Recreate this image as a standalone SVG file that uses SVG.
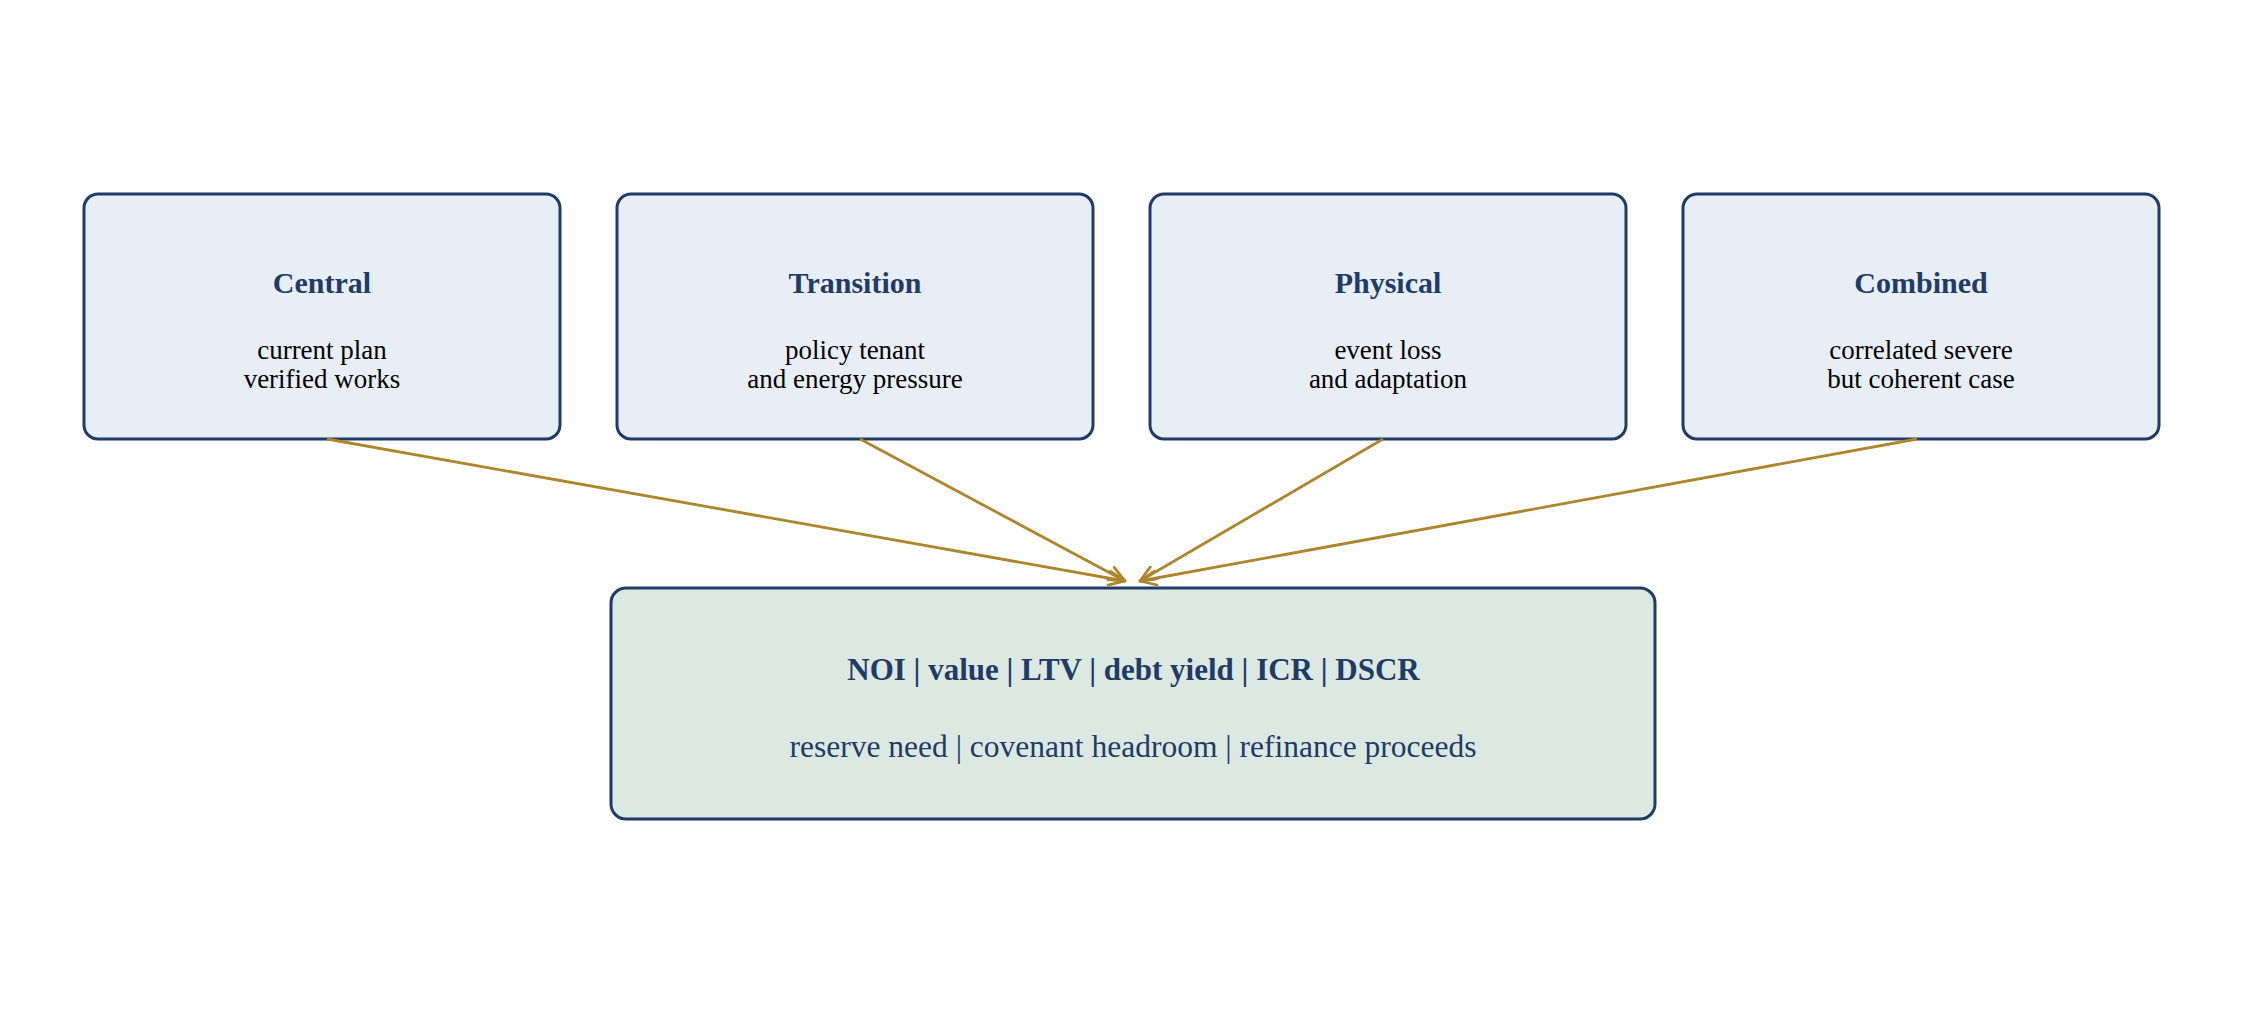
<svg xmlns="http://www.w3.org/2000/svg" width="2266" height="1012" viewBox="0 0 2266 1012">
  <defs>
    <style>
      .box { fill: #e7eef6; stroke: #1f3b66; stroke-width: 3; }
      .main { fill: #dce9e3; stroke: #1f3b66; stroke-width: 3; }
      .title { font-family: "Liberation Serif", "Times New Roman", serif; font-weight: bold; font-size: 30px; fill: #1f3b66; text-anchor: middle; }
      .body { font-family: "Liberation Serif", "Times New Roman", serif; font-size: 27px; fill: #000000; text-anchor: middle; }
      .mtitle { font-family: "Liberation Serif", "Times New Roman", serif; font-weight: bold; font-size: 31px; fill: #1f3b66; text-anchor: middle; }
      .msub { font-family: "Liberation Serif", "Times New Roman", serif; font-size: 31.5px; fill: #1f3b66; text-anchor: middle; }
      .conn { stroke: #ad862c; stroke-width: 2.8; fill: none; marker-end: url(#arr); }
    </style>
    <marker id="arr" viewBox="0 0 20 16" refX="18" refY="8" markerWidth="20" markerHeight="16" markerUnits="userSpaceOnUse" orient="auto">
      <path d="M2,1 L18,8 L2,15" fill="none" stroke="#ad862c" stroke-width="2.8" stroke-linecap="round" stroke-linejoin="round"/>
    </marker>
  </defs>
  <rect width="2266" height="1012" fill="#ffffff"/>

  <g id="node-central">
    <rect class="box" x="84" y="194" width="476" height="245" rx="14" ry="14"/>
    <text class="title" x="322" y="293">Central</text>
    <text class="body" x="322" y="359">current plan</text>
    <text class="body" x="322" y="388">verified works</text>
  </g>
  <g id="node-transition">
    <rect class="box" x="617" y="194" width="476" height="245" rx="14" ry="14"/>
    <text class="title" x="855" y="293">Transition</text>
    <text class="body" x="855" y="359">policy tenant</text>
    <text class="body" x="855" y="388">and energy pressure</text>
  </g>
  <g id="node-physical">
    <rect class="box" x="1150" y="194" width="476" height="245" rx="14" ry="14"/>
    <text class="title" x="1388" y="293">Physical</text>
    <text class="body" x="1388" y="359">event loss</text>
    <text class="body" x="1388" y="388">and adaptation</text>
  </g>
  <g id="node-combined">
    <rect class="box" x="1683" y="194" width="476" height="245" rx="14" ry="14"/>
    <text class="title" x="1921" y="293">Combined</text>
    <text class="body" x="1921" y="359">correlated severe</text>
    <text class="body" x="1921" y="388">but coherent case</text>
  </g>
  <g id="node-metrics">
    <rect class="main" x="611" y="588" width="1044" height="231" rx="15" ry="15"/>
    <text class="mtitle" x="1133.5" y="680">NOI | value | LTV | debt yield | ICR | DSCR</text>
    <text class="msub" x="1133" y="757">reserve need | covenant headroom | refinance proceeds</text>
  </g>

  <g id="connectors">
    <line class="conn" x1="327" y1="439" x2="1125" y2="581"/>
    <line class="conn" x1="860" y1="439" x2="1125" y2="581"/>
    <line class="conn" x1="1383" y1="439" x2="1140" y2="581"/>
    <line class="conn" x1="1917" y1="439" x2="1140" y2="581"/>
  </g>
</svg>
